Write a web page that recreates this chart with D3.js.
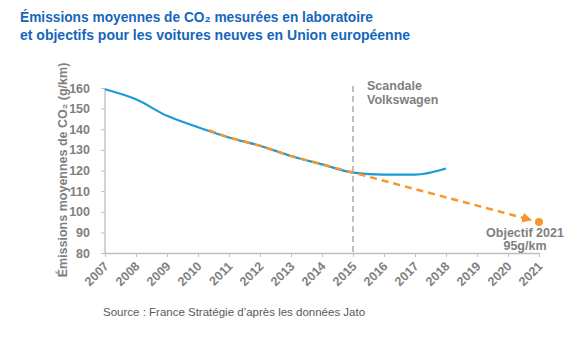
<!DOCTYPE html>
<html>
<head>
<meta charset="utf-8">
<script src="https://cdn.jsdelivr.net/npm/d3@7"></script>
<style>
body { margin: 0; background: #fff; }
svg { display: block; }
</style>
</head>
<body>
<div id="drawArea"></div>
<script>
// data
var years = [2007, 2008, 2009, 2010, 2011, 2012, 2013, 2014, 2015, 2016, 2017, 2018];
var emissions = [159.4, 154.5, 146.5, 141, 136, 132, 127, 123, 119, 118, 118, 121];
var trendYears = [2010.35, 2011, 2012, 2013, 2014, 2015, 2020.75];
var trendValues = [139.5, 136, 132, 127, 123, 119, 96];
var targetYear = 2021;
var targetValue = 95;
var yTicks = [80, 90, 100, 110, 120, 130, 140, 150, 160];
var xTicks = d3.range(2007, 2022);
var titleLines = ['Émissions moyennes de CO₂ mesurées en laboratoire',
	'et objectifs pour les voitures neuves en Union européenne'];

var W = 580, H = 348;
var grey = '#7f7f7f';
var font = 'Liberation Sans, Arial, Helvetica, sans-serif';

var svg = d3.select('#drawArea').append('svg')
	.attr('width', W)
	.attr('height', H);

var x = d3.scaleLinear().domain([2007, 2021]).range([105, 539]);
var y = d3.scaleLinear().domain([80, 160]).range([253, 88]);

// title (condensed look via textLength)
var titleWidths = [353, 390];
svg.selectAll('text.title')
	.data(titleLines)
	.enter().append('text')
		.attr('class', 'title')
		.attr('x', 20)
		.attr('y', function(d, i){ return 22 + i * 17.5; })
		.attr('fill', '#1666bd')
		.attr('font-family', font)
		.attr('font-weight', 'bold')
		.attr('font-size', 15)
		.attr('textLength', function(d, i){ return titleWidths[i]; })
		.attr('lengthAdjust', 'spacingAndGlyphs')
		.text(function(d){ return d; });

// axes
var yAxis = svg.append('g')
	.attr('transform', 'translate(105,0)')
	.call(d3.axisLeft(y).tickValues(yTicks).tickSize(4).tickPadding(11));
var xAxis = svg.append('g')
	.attr('transform', 'translate(0,253)')
	.call(d3.axisBottom(x).tickValues(xTicks).tickFormat(d3.format('d')).tickSize(4).tickSizeOuter(0));

[yAxis, xAxis].forEach(function(ax){
	ax.select('.domain').attr('stroke', '#bfbfbf').attr('stroke-width', 1.3);
	ax.selectAll('.tick line').attr('stroke', '#bfbfbf');
	ax.selectAll('.tick text')
		.attr('fill', grey)
		.attr('font-family', font)
		.attr('font-weight', 'bold')
		.attr('font-size', 12.5);
});
yAxis.select('.domain').attr('d', 'M0,' + y(160) + 'V253');

xAxis.selectAll('.tick text')
	.attr('text-anchor', 'end')
	.attr('dy', 0)
	.attr('y', 0)
	.attr('transform', 'translate(4,14) rotate(-45)');

// y label
svg.append('text')
	.attr('transform', 'translate(67,170) rotate(-90)')
	.attr('text-anchor', 'middle')
	.attr('fill', grey)
	.attr('font-family', font)
	.attr('font-weight', 'bold')
	.attr('font-size', 12.5)
	.text('Émissions moyennes de CO₂ (g/km)');

// Volkswagen scandal line
svg.append('line')
	.attr('x1', x(2015)).attr('x2', x(2015))
	.attr('y1', 86).attr('y2', 253)
	.attr('stroke', '#bfbfbf')
	.attr('stroke-width', 2)
	.attr('stroke-dasharray', '6,4');

svg.append('text')
	.attr('x', x(2015) + 14)
	.attr('fill', grey)
	.attr('font-family', font)
	.attr('font-weight', 'bold')
	.attr('font-size', 12.5)
	.selectAll('tspan')
	.data(['Scandale', 'Volkswagen'])
	.enter().append('tspan')
		.attr('x', x(2015) + 14)
		.attr('y', function(d, i){ return 90 + i * 14; })
		.text(function(d){ return d; });

// measured emissions
var line = d3.line()
	.x(function(d){ return x(d[0]); })
	.y(function(d){ return y(d[1]); })
	.curve(d3.curveMonotoneX);

svg.append('path')
	.datum(d3.zip(years, emissions))
	.attr('d', line)
	.attr('fill', 'none')
	.attr('stroke', '#1a9ad7')
	.attr('stroke-width', 2.2);

// target trend
svg.append('defs').append('marker')
	.attr('id', 'arrow')
	.attr('viewBox', '0 0 10 10')
	.attr('refX', 9).attr('refY', 5)
	.attr('markerWidth', 4).attr('markerHeight', 4)
	.attr('markerUnits', 'strokeWidth')
	.attr('orient', 'auto')
	.append('path')
		.attr('d', 'M0,0L10,5L0,10z')
		.attr('fill', '#f7962a');

svg.append('path')
	.datum(d3.zip(trendYears, trendValues))
	.attr('d', d3.line()
		.x(function(d){ return x(d[0]); })
		.y(function(d){ return y(d[1]); }))
	.attr('fill', 'none')
	.attr('stroke', '#f7962a')
	.attr('stroke-width', 2.5)
	.attr('stroke-dasharray', '7,5')
	.attr('marker-end', 'url(#arrow)');

svg.append('circle')
	.attr('cx', x(targetYear))
	.attr('cy', y(targetValue))
	.attr('r', 4)
	.attr('fill', '#f7962a');

svg.append('text')
	.attr('text-anchor', 'middle')
	.attr('fill', grey)
	.attr('font-family', font)
	.attr('font-weight', 'bold')
	.attr('font-size', 12.5)
	.selectAll('tspan')
	.data(['Objectif 2021', '95g/km'])
	.enter().append('tspan')
		.attr('x', 525)
		.attr('y', function(d, i){ return 237 + i * 13; })
		.text(function(d){ return d; });

// source
svg.append('text')
	.attr('x', 103)
	.attr('y', 316)
	.attr('fill', '#595959')
	.attr('font-family', font)
	.attr('font-size', 11.5)
	.text('Source : France Stratégie d’après les données Jato');
</script>
</body>
</html>
